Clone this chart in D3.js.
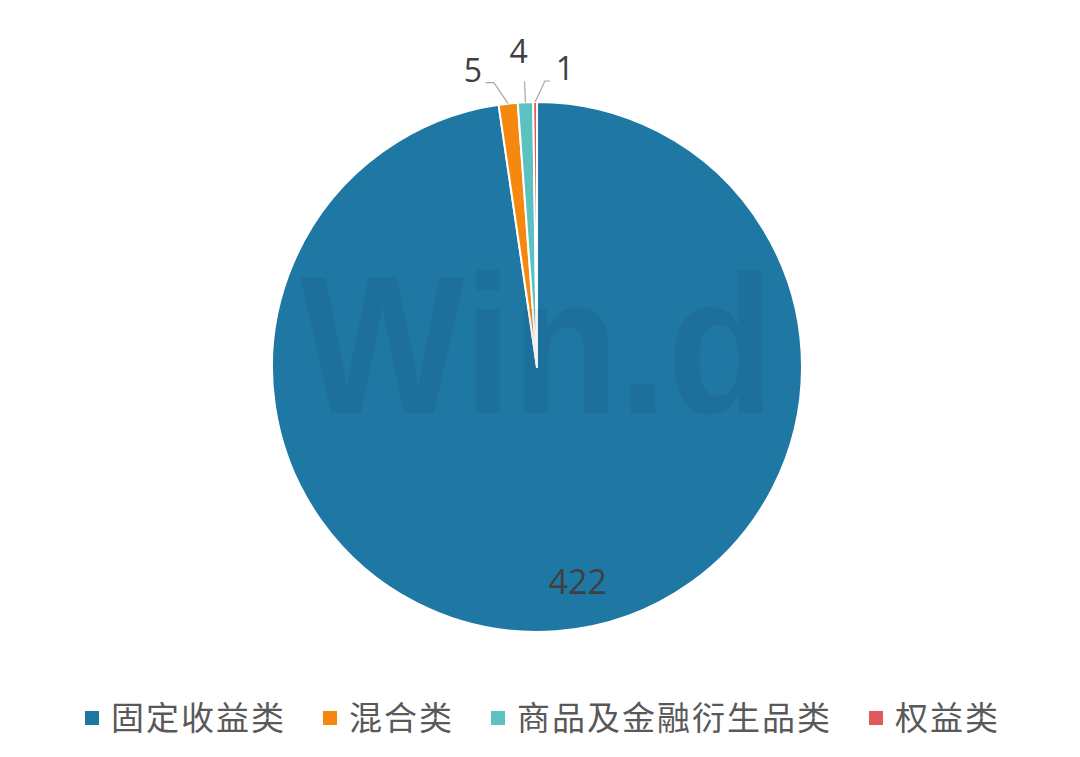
<!DOCTYPE html>
<html>
<head>
<meta charset="utf-8">
<script src="https://cdn.jsdelivr.net/npm/d3@7"></script>
<style>
  html, body { margin: 0; padding: 0; background: #fff; }
  svg { display: block; }
</style>
</head>
<body>
<svg id="chart" width="1080" height="757"></svg>
<script>
// ---- data ----
const categories = ["固定收益类", "混合类", "商品及金融衍生品类", "权益类"];
const values = [422, 5, 4, 1];
const colors = ["#1F77A4", "#F5890F", "#5CC2C0", "#E05A5A"];

// ---- layout / style ----
const W = 1080, H = 757;
const cx = 537, cy = 367, R = 265;
const fontCJK = "'Noto Sans CJK SC', 'Noto Sans', sans-serif";
const fontNum = "'Open Sans', 'Noto Sans', sans-serif";

const svg = d3.select("#chart");

const pie = d3.pie().sort(null).value(d => d.value);
const data = categories.map((c, i) => ({ name: c, value: values[i], color: colors[i] }));
const arcs = pie(data);

const arc = d3.arc().innerRadius(0).outerRadius(R);

const g = svg.append("g").attr("transform", `translate(${cx},${cy})`);

g.selectAll("path.slice")
  .data(arcs)
  .enter().append("path")
  .attr("class", "slice")
  .attr("d", arc)
  .attr("fill", d => d.data.color)
  .attr("stroke", "#fff")
  .attr("stroke-width", 2)
  .attr("stroke-linejoin", "round");

// watermark
svg.append("text")
  .attr("x", 300).attr("y", 413)
  .attr("textLength", 474).attr("lengthAdjust", "spacingAndGlyphs")
  .attr("font-family", "'Liberation Sans', Arial, sans-serif")
  .attr("font-weight", "bold")
  .attr("font-size", 196)
  .attr("fill", "#000")
  .attr("fill-opacity", 0.055)
  .text("Win.d");

// big slice label (inside)
const inArc = d3.arc().innerRadius(R * 0.82).outerRadius(R * 0.82);
const c0 = inArc.centroid(arcs[0]);
g.append("text")
  .attr("x", c0[0] + 25).attr("y", c0[1] + 10)
  .attr("text-anchor", "middle")
  .attr("font-family", fontNum)
  .attr("font-size", 34)
  .attr("fill", "#404040")
  .text(values[0]);

// outer labels with leader lines for small slices
const elbowShift = [0, -12, 0, 10];
const tailLen = [0, -8, 0, 5];
const labelDx = [0, -13, -6, 15];
const labelDy = [0, -1, -18, -1];
const outerPt = (a, r) => {
  const m = (a.startAngle + a.endAngle) / 2;
  return [Math.sin(m) * r, -Math.cos(m) * r];
};
arcs.forEach((a, i) => {
  if (i === 0) return;
  const p0 = outerPt(a, R);
  const pe = outerPt(a, R + 21);
  const e = [pe[0] + elbowShift[i], pe[1]];
  const t = [e[0] + tailLen[i], e[1]];
  g.append("path")
    .attr("d", d3.line()([p0, e, t]))
    .attr("fill", "none")
    .attr("stroke", "#A6A6A6")
    .attr("stroke-width", 1.2);
  g.append("text")
    .attr("x", t[0] + labelDx[i])
    .attr("y", t[1] + labelDy[i])
    .attr("text-anchor", "middle")
    .attr("font-family", fontNum)
    .attr("font-size", 32)
    .attr("fill", "#404040")
    .text(a.data.value);
});

// legend
const legend = svg.append("g");
const legendY = 718;
const sq = 14, sqGap = 12, itemGap = 37;
let x = 85;
data.forEach((d, i) => {
  legend.append("rect")
    .attr("x", x).attr("y", legendY - sq / 2)
    .attr("width", sq).attr("height", sq)
    .attr("fill", d.color);
  const t = legend.append("text")
    .attr("x", x + sq + sqGap)
    .attr("y", legendY)
    .attr("dy", "0.36em")
    .attr("font-family", fontCJK)
    .attr("font-size", 33)
    .attr("letter-spacing", 2)
    .attr("fill", "#595959")
    .text(d.name);
  x += sq + sqGap + t.node().getComputedTextLength() + itemGap;
});
</script>
</body>
</html>
